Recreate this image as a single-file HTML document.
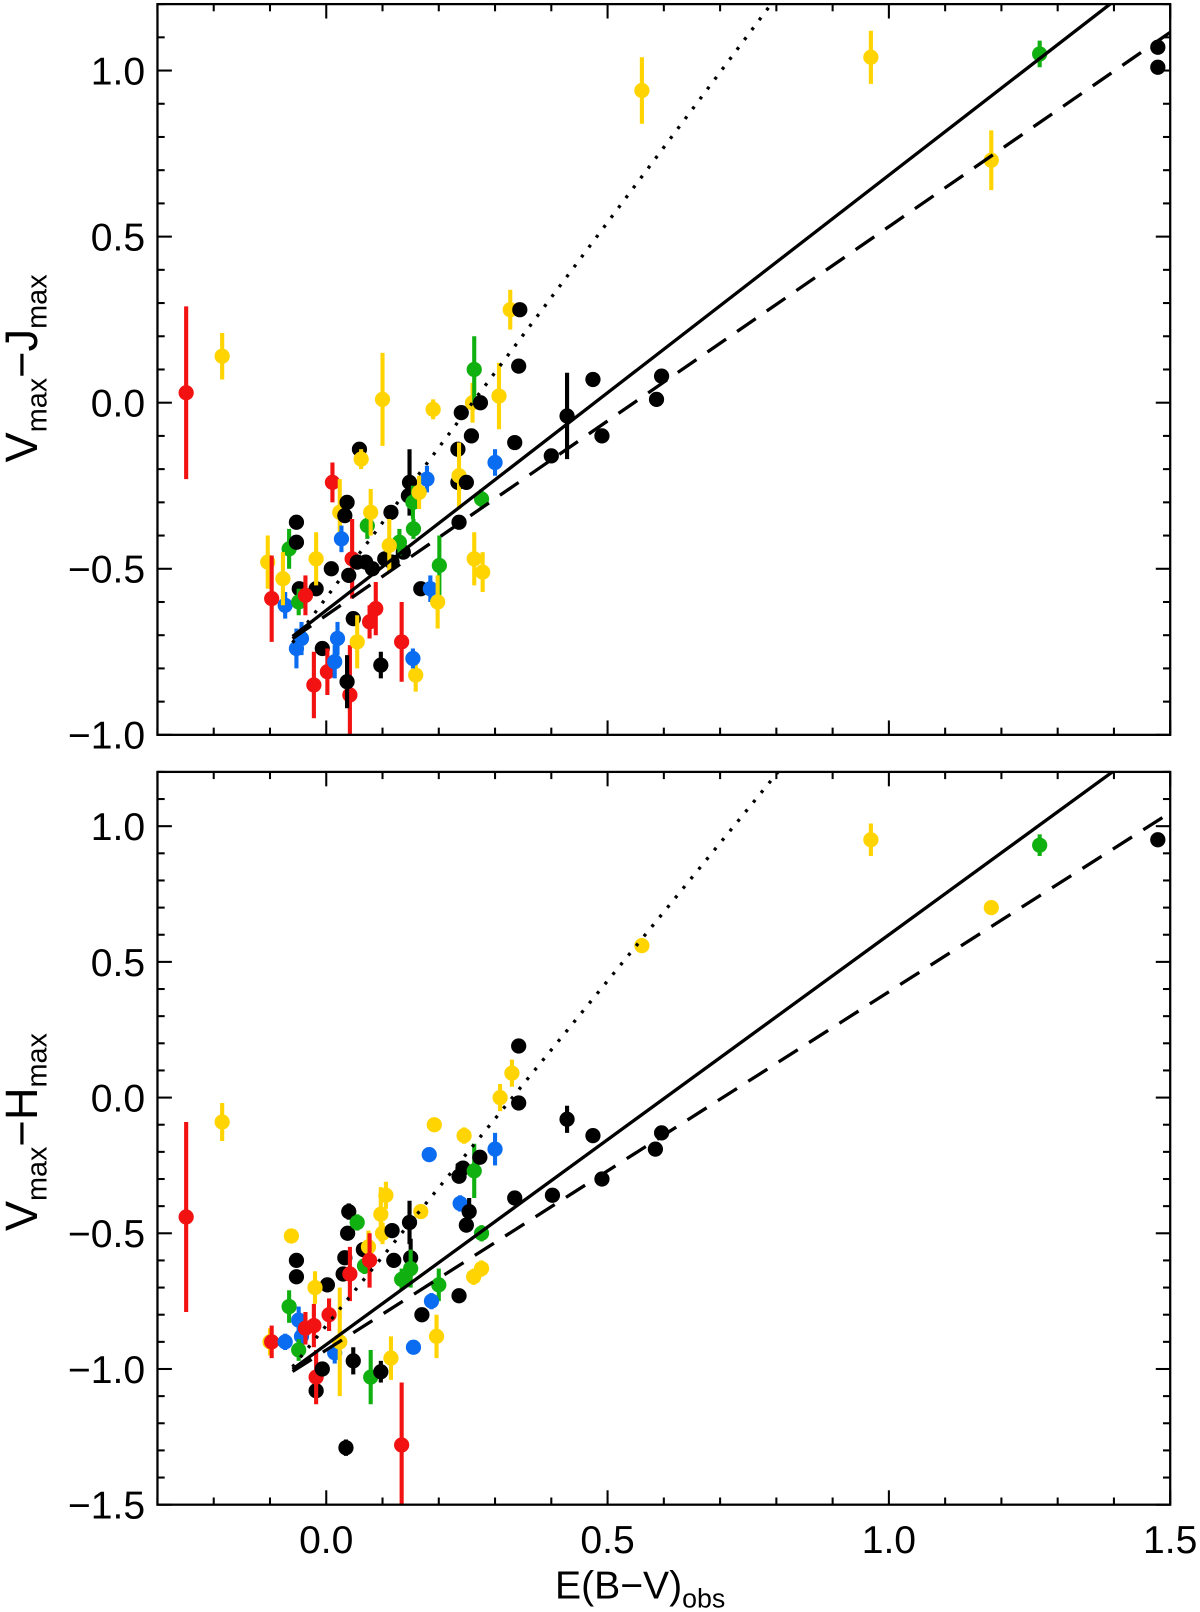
<!DOCTYPE html>
<html><head><meta charset="utf-8"><style>
html,body{margin:0;padding:0;background:#fff;}
svg{display:block;font-family:"Liberation Sans",Arial,sans-serif;}
</style></head><body>
<svg id="chart" width="1200" height="1612" viewBox="0 0 1200 1612" xmlns="http://www.w3.org/2000/svg"><g id="root" transform="scale(1.0292)"></g></svg>
<script>
// ---- data (E(B-V)obs, colour, error, group) ----
const colorMap = {R:'#f21212',Y:'#ffd400',G:'#10b010',B:'#0a6cf0',K:'#000000'};
const topX = [-0.249,-0.185,-0.104,-0.097,-0.073,-0.066,-0.053,-0.053,-0.048,-0.077,-0.053,-0.044,-0.049,-0.022,-0.018,-0.007,0.002,-0.018,-0.037,0.009,0.011,0.015,0.02,0.024,0.037,0.033,0.027,0.046,0.04,0.048,0.042,0.037,0.059,0.062,0.073,0.079,0.07,0.055,0.055,0.077,0.088,0.082,0.104,0.117,0.1,0.097,0.115,0.137,0.13,0.112,0.148,0.146,0.154,0.155,0.134,0.159,0.154,0.168,0.179,0.165,0.185,0.201,0.198,0.19,0.234,0.234,0.24,0.236,0.249,0.258,0.236,0.26,0.263,0.263,0.278,0.274,0.276,0.3,0.307,0.335,0.327,0.344,0.342,0.4,0.428,0.474,0.49,0.587,0.596,0.561,0.968,1.182,1.268,1.478,1.478];
const topY = [0.03,0.14,-0.48,-0.59,-0.61,-0.44,-0.36,-0.42,-0.56,-0.53,-0.74,-0.71,-0.60,-0.85,-0.56,-0.74,-0.81,-0.47,-0.58,-0.50,-0.24,-0.78,-0.71,-0.33,-0.30,-0.34,-0.41,-0.47,-0.52,-0.65,-0.88,-0.84,-0.14,-0.17,-0.37,-0.33,-0.48,-0.48,-0.72,-0.66,-0.62,-0.50,-0.47,-0.48,0.01,-0.79,-0.33,-0.45,-0.42,-0.43,-0.24,-0.28,-0.30,-0.38,-0.72,-0.82,-0.77,-0.56,-0.23,-0.27,-0.56,-0.49,-0.60,-0.02,-0.14,-0.24,-0.03,-0.22,-0.24,-0.10,-0.36,0.0,0.10,-0.47,-0.51,0.0,-0.29,-0.18,0.02,-0.12,0.28,0.28,0.11,-0.16,-0.04,0.07,-0.10,0.01,0.08,0.94,1.04,0.73,1.05,1.07,1.01];
const topErr = [0.26,0.07,0.08,0.13,0.04,0.06,0.02,0.02,0.02,0.08,0.06,0.05,0.04,0.1,0.02,0.02,0.07,0.08,0.06,0.02,0.06,0.05,0.05,0.1,0.02,0.02,0.04,0.12,0.02,0.02,0.15,0.08,0.02,0.03,0.04,0.07,0.02,0.02,0.08,0.05,0.08,0.02,0.02,0.02,0.14,0.04,0.02,0.02,0.04,0.08,0.1,0.02,0.05,0.03,0.12,0.05,0.03,0.02,0.04,0.05,0.04,0.09,0.08,0.03,0.02,0.02,0.02,0.1,0.02,0.02,0.02,0.06,0.1,0.08,0.06,0.02,0.03,0.04,0.1,0.02,0.06,0.02,0.02,0.02,0.13,0.02,0.02,0.02,0.02,0.1,0.08,0.09,0.04,0.02,0.02];
const topC = ['R','Y','Y','R','B','G','K','K','K','Y','B','B','G','R','K','K','R','Y','R','K','R','B','B','Y','K','K','B','R','K','K','R','K','K','Y','G','Y','K','K','Y','R','R','K','K','K','Y','K','K','K','G','Y','K','K','G','G','R','Y','B','K','B','Y','B','G','Y','Y','K','K','K','Y','K','K','K','Y','G','Y','Y','K','G','B','Y','K','Y','K','K','K','K','K','K','K','K','Y','Y','Y','G','K','K'];

const botX = [-0.249,-0.185,-0.062,-0.053,-0.053,-0.066,-0.1,-0.097,-0.073,-0.049,-0.044,-0.049,-0.018,-0.018,-0.007,-0.037,-0.022,0.002,0.005,0.015,-0.02,0.024,0.033,0.03,0.04,0.038,0.035,0.048,0.042,0.055,0.068,0.066,0.075,0.097,0.1,0.077,0.079,0.106,0.097,0.12,0.117,0.134,0.134,0.155,0.115,0.148,0.15,0.15,0.168,0.17,0.183,0.192,0.2,0.196,0.187,0.236,0.245,0.236,0.243,0.238,0.249,0.254,0.263,0.262,0.276,0.276,0.273,0.3,0.309,0.33,0.342,0.342,0.335,0.402,0.428,0.474,0.49,0.585,0.596,0.561,0.968,1.182,1.268,1.478];
const botY = [-0.44,-0.09,-0.51,-0.60,-0.66,-0.77,-0.90,-0.90,-0.90,-0.82,-0.88,-0.93,-1.08,-1.03,-1.0,-0.85,-0.84,-0.69,-0.80,-0.94,-0.70,-0.90,-0.59,-0.65,-0.42,-0.50,-1.29,-0.97,-0.65,-0.46,-0.62,-0.56,-0.55,-0.43,-0.50,-0.60,-1.03,-0.36,-1.01,-0.60,-0.49,-0.67,-1.28,-0.92,-0.96,-0.46,-0.59,-0.63,-0.42,-0.80,-0.21,-0.10,-0.69,-0.88,-0.75,-0.73,-0.14,-0.29,-0.26,-0.39,-0.47,-0.42,-0.27,-0.66,-0.63,-0.50,-0.22,-0.19,0.0,0.09,0.19,-0.02,-0.37,-0.36,-0.08,-0.14,-0.30,-0.19,-0.13,0.56,0.95,0.70,0.93,0.95];
const botErr = [0.35,0.07,0.02,0.02,0.02,0.06,0.05,0.06,0.03,0.05,0.04,0.04,0.02,0.1,0.02,0.06,0.08,0.02,0.06,0.04,0.06,0.2,0.02,0.02,0.03,0.02,0.03,0.05,0.1,0.03,0.03,0.02,0.06,0.1,0.04,0.1,0.1,0.05,0.04,0.02,0.02,0.04,0.23,0.02,0.08,0.08,0.07,0.07,0.02,0.02,0.02,0.02,0.06,0.08,0.03,0.02,0.03,0.02,0.02,0.03,0.02,0.05,0.1,0.03,0.03,0.03,0.02,0.06,0.05,0.05,0.02,0.02,0.02,0.02,0.05,0.02,0.02,0.02,0.02,0.02,0.06,0.01,0.04,0.02];
const botC = ['R','Y','Y','K','K','G','Y','R','B','B','B','G','K','R','K','R','R','K','R','B','Y','Y','K','K','K','K','K','K','R','G','G','K','Y','Y','Y','R','G','Y','K','K','K','G','R','B','Y','K','K','G','Y','K','B','Y','G','Y','B','K','Y','K','K','B','K','K','G','Y','Y','G','K','B','Y','Y','K','K','K','K','K','K','K','K','K','Y','Y','Y','G','K'];

// fit lines: [slope, intercept]
const topFits = {solid:[1.31,-0.625], dashed:[1.17,-0.64], dotted:[2.26,-0.587]};
const botFits = {solid:[1.51,-0.91], dashed:[1.32,-0.93], dotted:[2.54,-0.84]};
const xTicks = [0.0,0.5,1.0,1.5];
const topYTicks = [-1.0,-0.5,0.0,0.5,1.0];
const botYTicks = [-1.5,-1.0,-0.5,0.0,0.5,1.0];

const NS='http://www.w3.org/2000/svg';
const root=document.getElementById('root');
function mk(tag,attrs,parent){const e=document.createElementNS(NS,tag);for(const k in attrs)e.setAttribute(k,attrs[k]);(parent||root).appendChild(e);return e;}

const X0=153,X1=1137,XMIN=-0.3,XMAX=1.5;
const sx=v=>X0+(v-XMIN)/(XMAX-XMIN)*(X1-X0);

function panel(name,top,bot,ymin,ymax,xs,ys,es,cs,fits,yticks,showX,titleMain,titleY){
  const g=mk('g',{});
  
  
  const sy=v=>bot-(v-ymin)/(ymax-ymin)*(bot-top);
  const clipId='clip-'+name;
  const cp=mk('clipPath',{id:clipId},g);
  mk('rect',{x:X0,y:top,width:X1-X0,height:bot-top},cp);
  const marks=mk('g',{'clip-path':'url(#'+clipId+')'},g);
  for(let i=0;i<xs.length;i++){
    const col=colorMap[cs[i]];
    const p=mk('g',{},marks);
    
    
    mk('line',{x1:sx(xs[i]),x2:sx(xs[i]),y1:sy(ys[i]-es[i]),y2:sy(ys[i]+es[i]),stroke:col,'stroke-width':4},p);
    mk('circle',{cx:sx(xs[i]),cy:sy(ys[i]),r:7.4,fill:col},p);
  }
  const styles={solid:'none',dashed:'22 13',dotted:'3 9'};
  for(const k in fits){
    const [m,b]=fits[k];
    const xa=-0.06, xb=1.6;
    const l=mk('line',{x1:sx(xa),y1:sy(m*xa+b),x2:sx(xb),y2:sy(m*xb+b),stroke:'#000','stroke-width':3.2,'stroke-dasharray':styles[k]},marks);
    
    
  }
  const fr=mk('rect',{x:X0,y:top,width:X1-X0,height:bot-top,fill:'none',stroke:'#000','stroke-width':2.2},g);
  
  
  for(let i=-3;i<=15;i++){
    const v=i/10, px=sx(v), len=(i%5===0)?14:7;
    mk('line',{x1:px,x2:px,y1:bot,y2:bot-len,stroke:'#000','stroke-width':2},g);
    mk('line',{x1:px,x2:px,y1:top,y2:top+len,stroke:'#000','stroke-width':2},g);
  }
  if(showX){
    xTicks.forEach(v=>{
      const t=mk('text',{x:sx(v),y:bot+47,'font-size':38,'text-anchor':'middle'},g);
      t.textContent=v.toFixed(1);
      
      
    });
  }
  const n0=Math.ceil(ymin*10-1e-6), n1=Math.floor(ymax*10+1e-6);
  for(let i=n0;i<=n1;i++){
    const py=sy(i/10), len=(i%5===0)?14:7;
    mk('line',{x1:X0,x2:X0+len,y1:py,y2:py,stroke:'#000','stroke-width':2},g);
    mk('line',{x1:X1,x2:X1-len,y1:py,y2:py,stroke:'#000','stroke-width':2},g);
  }
  yticks.forEach(v=>{
    const t=mk('text',{x:X0-12,y:sy(v)+13.5,'font-size':38,'text-anchor':'end'},g);
    t.textContent=(v<0?'\u2212':'')+Math.abs(v).toFixed(1);
    
    
  });
  const t=mk('text',{x:0,y:0,'font-size':44,'text-anchor':'middle',transform:'translate(36,'+titleY+') rotate(-90)'},g);
  
  
  t.innerHTML='V<tspan font-size="28" dy="9">max</tspan><tspan dy="-9">\u2212'+titleMain+'</tspan><tspan font-size="28" dy="9">max</tspan>';
}

panel('top-panel',4,714,-1.0,1.2,topX,topY,topErr,topC,topFits,topYTicks,false,'J',358);
panel('bottom-panel',750,1462,-1.5,1.2,botX,botY,botErr,botC,botFits,botYTicks,true,'H',1100);

const xt=mk('text',{x:622,y:1553,'font-size':38,'text-anchor':'middle'});


xt.innerHTML='E(B\u2212V)<tspan font-size="26" dy="9">obs</tspan>';
</script>
</body></html>
